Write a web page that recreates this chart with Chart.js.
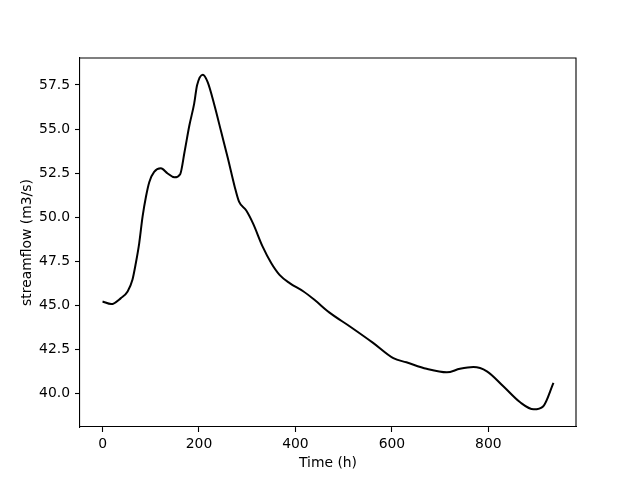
<!DOCTYPE html>
<html>
<head>
<meta charset="utf-8">
<script src="https://cdn.jsdelivr.net/npm/chart.js@4"></script>
<style>
  html, body { margin: 0; padding: 0; background: #fff; }
  #wrap { width: 640px; height: 480px; }
</style>
</head>
<body>
<div id="wrap"><canvas id="flowChart" width="640" height="480"></canvas></div>
<script>
// ─── DATA ────────────────────────────────────────────────────────
const timeHours = [0, 18, 38, 52, 62, 69, 76, 83, 90, 97, 107, 121, 135, 149, 161, 170, 180, 190, 196,
    208, 218, 232, 246, 260, 274, 283, 298, 312, 332, 350, 367, 388, 416, 440, 470, 513, 561, 603, 630,
    672, 714, 741, 769, 797, 831, 866, 894, 914, 935];
const streamflow = [45.22, 45.07, 45.41, 45.79, 46.45, 47.39, 48.52, 50.03, 51.16, 52.0, 52.57, 52.77,
    52.48, 52.26, 52.44, 53.7, 55.2, 56.44, 57.48, 58.08, 57.66, 56.35, 54.84, 53.33, 51.73, 50.88,
    50.38, 49.65, 48.33, 47.39, 46.73, 46.26, 45.8, 45.3, 44.6, 43.8, 42.87, 42.0, 41.77, 41.4, 41.2,
    41.4, 41.5, 41.26, 40.41, 39.5, 39.1, 39.28, 40.6];
const xTickValues = [0, 200, 400, 600, 800];
const yTickValues = [40.0, 42.5, 45.0, 47.5, 50.0, 52.5, 55.0, 57.5];

const FONT = { family: '"DejaVu Sans", sans-serif', size: 13.9 };

// top + right spines (matplotlib style box)
const frameBox = {
    id: 'frameBox',
    afterDraw(chart) {
        const { ctx, chartArea: a } = chart;
        ctx.save();
        ctx.strokeStyle = '#000';
        ctx.lineWidth = 1.1;
        ctx.beginPath();
        ctx.moveTo(a.left, a.top);
        ctx.lineTo(a.right, a.top);
        ctx.lineTo(a.right, a.bottom);
        ctx.stroke();
        ctx.restore();
    }
};

new Chart(document.getElementById('flowChart'), {
    type: 'line',
    data: {
        datasets: [{
            data: timeHours.map((t, i) => ({ x: t, y: streamflow[i] })),
            borderColor: '#000',
            borderWidth: 2,
            pointRadius: 0,
            fill: false,
            cubicInterpolationMode: 'monotone'
        }]
    },
    options: {
        responsive: false,
        animation: false,
        layout: { padding: { left: 0, top: 58, right: 64, bottom: 0 } },
        plugins: { legend: { display: false }, tooltip: { enabled: false } },
        scales: {
            x: {
                type: 'linear',
                min: -46.75,
                max: 981.75,
                afterBuildTicks: s => { s.ticks = xTickValues.map(v => ({ value: v })); },
                afterFit: s => { s.height = 53; },
                grid: { drawOnChartArea: false, drawTicks: true, tickLength: 5, tickColor: '#000', tickWidth: 1.1 },
                border: { display: true, color: '#000', width: 1.1 },
                ticks: { color: '#000', font: FONT, padding: 4, maxRotation: 0, callback: v => String(v) },
                title: { display: true, text: 'Time (h)', color: '#000', font: FONT, padding: { top: 0, bottom: 8.6 } }
            },
            y: {
                type: 'linear',
                min: 38.1,
                max: 59.03,
                afterBuildTicks: s => { s.ticks = yTickValues.map(v => ({ value: v })); },
                afterFit: s => { s.width = 80; },
                grid: { drawOnChartArea: false, drawTicks: true, tickLength: 5, tickColor: '#000', tickWidth: 1.1 },
                border: { display: true, color: '#000', width: 1.1 },
                ticks: { color: '#000', font: FONT, padding: 5, callback: v => Number(v).toFixed(1) },
                title: { display: true, text: 'streamflow (m3/s)', color: '#000', font: FONT, padding: { top: 18.6, bottom: 0 } }
            }
        }
    },
    plugins: [frameBox]
});
</script>
</body>
</html>
